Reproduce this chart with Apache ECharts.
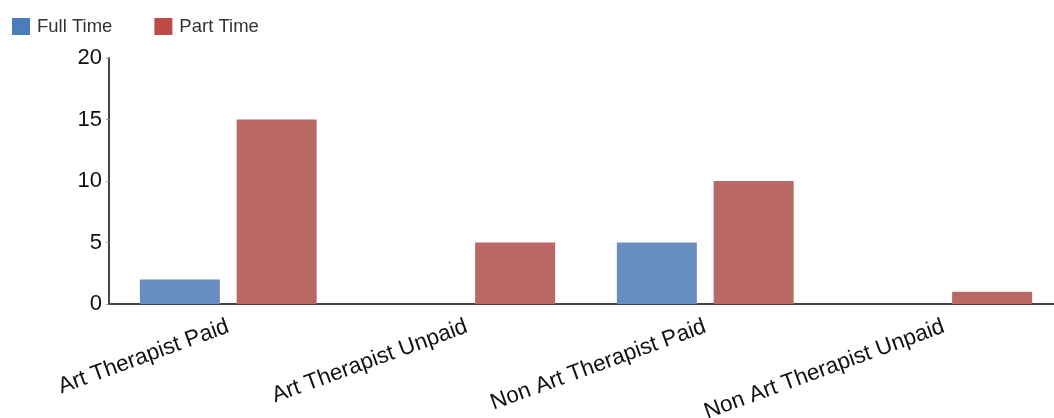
<!DOCTYPE html>
<html>
<head>
<meta charset="utf-8">
<script src="https://cdn.jsdelivr.net/npm/echarts@6/dist/echarts.min.js"></script>
<style>
  html, body { margin: 0; padding: 0; background: #fff; }
  #chart { width: 1054px; height: 418px; }
</style>
</head>
<body>
<div id="chart"></div>
<script>
// categories and values
const categories = ['Art Therapist Paid', 'Art Therapist Unpaid', 'Non Art Therapist Paid', 'Non Art Therapist Unpaid']
const fullTime = [2, 0, 5, 0]
const partTime = [15, 5, 10, 1]
const yTicks = { min: 0, max: 20, interval: 5 }

const chart = echarts.init(document.getElementById('chart'))
chart.setOption({
  animation: false,
  textStyle: { fontFamily: 'Liberation Sans, Arial, sans-serif' },
  legend: {
    left: 7,
    top: 12,
    icon: 'rect',
    itemWidth: 18,
    itemHeight: 17,
    itemGap: 42,
    textStyle: { fontSize: 18.5, color: '#333', padding: [0, 0, 0, 2] },
    data: [
      { name: 'Full Time', itemStyle: { color: '#4a7ebb' } },
      { name: 'Part Time', itemStyle: { color: '#be4b48' } }
    ]
  },
  // the plot runs past the right edge in the original, so let it be clipped
  grid: { left: 109, top: 58, width: 954, height: 246, outerBoundsMode: 'none' },
  xAxis: {
    type: 'category',
    data: categories,
    axisLine: { lineStyle: { color: '#444', width: 2 } },
    axisTick: { alignWithLabel: true, length: 3, lineStyle: { color: '#999' } },
    axisLabel: { rotate: 20, margin: 22, fontSize: 22.5, color: '#111', interval: 0 }
  },
  yAxis: {
    type: 'value',
    min: yTicks.min,
    max: yTicks.max,
    interval: yTicks.interval,
    axisLine: { show: true, lineStyle: { color: '#444', width: 2 } },
    axisTick: { show: true, length: 3, lineStyle: { color: '#999' } },
    splitLine: { show: false },
    axisLabel: { fontSize: 22, color: '#111', margin: 7 }
  },
  series: [
    {
      name: 'Full Time',
      type: 'bar',
      barWidth: 80,
      barGap: '21%',
      itemStyle: { color: '#678ebe' },
      data: fullTime
    },
    {
      name: 'Part Time',
      type: 'bar',
      barWidth: 80,
      itemStyle: { color: '#b96864' },
      data: partTime
    }
  ]
})
</script>
</body>
</html>
